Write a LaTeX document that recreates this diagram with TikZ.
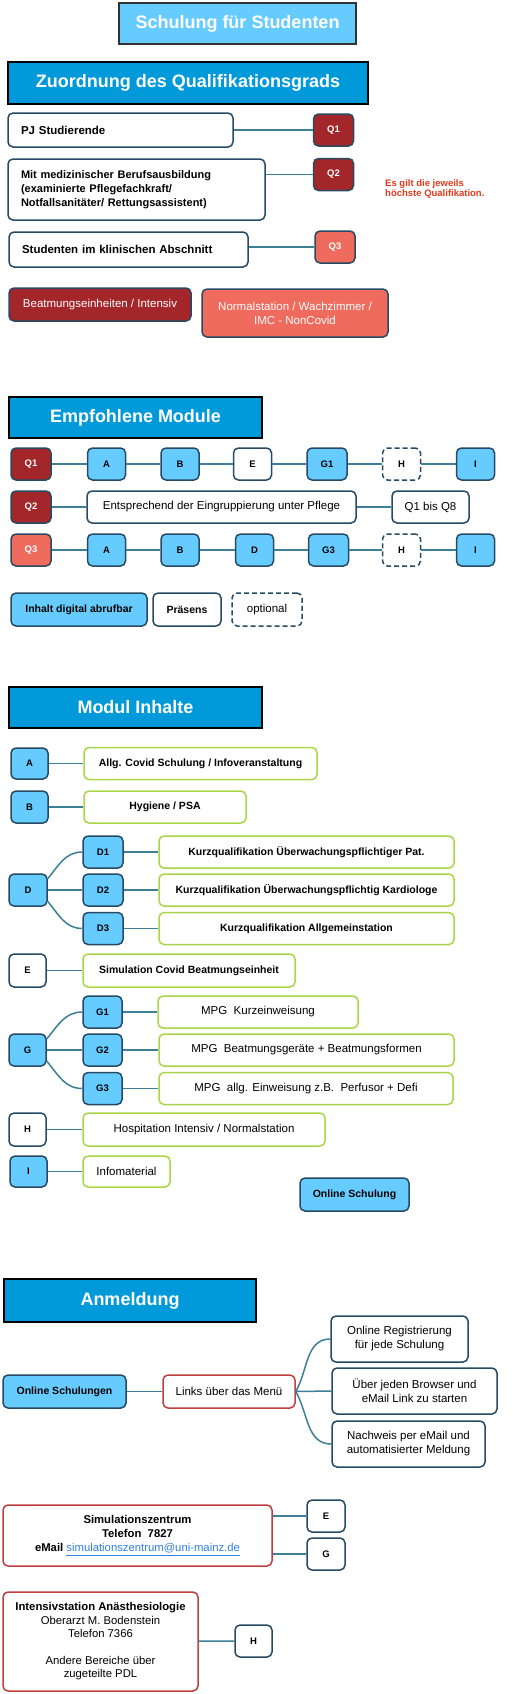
\documentclass[tikz,border=0pt]{standalone}
\usepackage{fontspec}
\setmainfont{Liberation Sans}
\definecolor{lblue}{HTML}{66CCFF}
\definecolor{hblue}{HTML}{0099DA}
\definecolor{bord}{HTML}{264A63}
\definecolor{dred}{HTML}{A3262A}
\definecolor{salmon}{HTML}{EE6B5E}
\definecolor{lgreen}{HTML}{A8D748}
\definecolor{rbord}{HTML}{C0403F}
\definecolor{conncol}{HTML}{3D7F99}
\definecolor{notered}{HTML}{E03A1E}
\definecolor{linkblue}{HTML}{2F80E0}
\newcommand\fz[2]{\fontsize{#1pt}{#2pt}\selectfont}
\begin{document}
\begin{tikzpicture}[x=1pt,y=-1pt]
\tikzset{
 bx/.style={draw=bord,line width=1.5pt,rounded corners=5pt,inner sep=0pt,align=center,font=\fz{11.5}{14}},
 wbx/.style={bx,fill=white},
 bbx/.style={bx,fill=lblue},
 dbx/.style={bx,fill=white,dash pattern=on 5pt off 3pt},
 gbx/.style={bx,draw=lgreen,fill=white},
 rbx/.style={bx,draw=rbord,fill=white},
 ltr/.style={minimum width=38pt,minimum height=32pt,font=\bfseries\fz{9.5}{11}},
 qd/.style={bx,fill=dred,text=white,ltr,minimum width=40pt},
 ql/.style={bx,fill=salmon,text=white,ltr,minimum width=40pt},
 hdr/.style={draw=black,line width=2.5pt,fill=hblue,text=white,inner sep=0pt,font=\bfseries\fz{18}{22}},
 conn/.style={draw=conncol,line width=1.5pt},
 lbold/.style={font=\bfseries\fz{11.5}{14}},
 mbold/.style={font=\bfseries\fz{10.5}{13}},
}
\fill[white] (0,0) rectangle (513,1694);
\useasboundingbox (0,0) rectangle (513,1694);

% ---------- Title ----------
\node[hdr,draw=black!80,fill=lblue,minimum width=237pt,minimum height=41pt] (title) at (237.5,23.5) {Schulung für Studenten};

% ---------- Zuordnung ----------
\node[hdr,minimum width=360pt,minimum height=42pt] (zuo) at (188,83) {Zuordnung des Qualifikationsgrads};
\node[wbx,minimum width=225pt,minimum height=34pt,text width=199pt,inner xsep=13pt,align=left,lbold] (pj) at (120.5,130) {PJ Studierende};
\node[qd] (q1a) at (333.5,130) {Q1};
\node[wbx,minimum width=257pt,minimum height=61pt,text width=231pt,inner xsep=13pt,align=left,font=\bfseries\fz{11}{14}] (mit) at (136.5,189.5) {Mit medizinischer Berufsausbildung\\(examinierte Pflegefachkraft/\\Notfallsanitäter/ Rettungsassistent)};
\node[qd] (q2a) at (333.5,174.5) {Q2};
\node[font=\bfseries\fz{9.5}{10.5},text=notered,align=left,anchor=west,inner sep=0pt] (note) at (385,189) {Es gilt die jeweils\\höchste Qualifikation.};
\node[wbx,minimum width=239pt,minimum height=35pt,text width=213pt,inner xsep=13pt,align=left,lbold] (stud) at (128.5,249.5) {Studenten im klinischen Abschnitt};
\node[ql] (q3a) at (335,247) {Q3};
\node[bx,fill=dred,text=white,minimum width=182pt,minimum height=33pt] (beat) at (100,304.5) {Beatmungseinheiten / Intensiv};
\node[bx,fill=salmon,text=white,minimum width=186pt,minimum height=48pt] (norm) at (295,313) {Normalstation / Wachzimmer /\\IMC - NonCovid};
\draw[conn] (pj.east) -- (q1a.west);
\draw[conn] (mit.east |- q2a) -- (q2a.west);
\draw[conn] (stud.east |- q3a) -- (q3a.west);

% ---------- Empfohlene Module ----------
\node[hdr,minimum width=253pt,minimum height=41pt] (emp) at (135.5,417.5) {Empfohlene Module};
\node[qd] (r1q) at (31,464) {Q1};
\node[bbx,ltr] (r1a) at (106.5,464) {A};
\node[bbx,ltr] (r1b) at (180,464) {B};
\node[wbx,ltr] (r1e) at (252.5,464) {E};
\node[bbx,ltr,minimum width=40pt] (r1g) at (327,464) {G1};
\node[dbx,ltr] (r1h) at (401.5,464) {H};
\node[bbx,ltr] (r1i) at (475.5,464) {I};
\draw[conn] (r1q) -- (r1a) -- (r1b) -- (r1e) -- (r1g) -- (r1h) -- (r1i);

\node[qd] (r2q) at (31,507) {Q2};
\node[wbx,minimum width=269pt,minimum height=32pt] (r2e) at (221.5,507) {Entsprechend der Eingruppierung unter Pflege};
\node[wbx,minimum width=77pt,minimum height=32pt] (r2q8) at (430.5,507) {Q1 bis Q8};
\draw[conn] (r2q) -- (r2e) -- (r2q8);

\node[ql] (r3q) at (31,550) {Q3};
\node[bbx,ltr] (r3a) at (106.5,550) {A};
\node[bbx,ltr] (r3b) at (180,550) {B};
\node[bbx,ltr] (r3d) at (254.5,550) {D};
\node[bbx,ltr,minimum width=40pt] (r3g) at (328.5,550) {G3};
\node[dbx,ltr] (r3h) at (401.5,550) {H};
\node[bbx,ltr] (r3i) at (475.5,550) {I};
\draw[conn] (r3q) -- (r3a) -- (r3b) -- (r3d) -- (r3g) -- (r3h) -- (r3i);

\node[bbx,minimum width=136pt,minimum height=33pt,mbold] (lg1) at (79,609.5) {Inhalt digital abrufbar};
\node[wbx,minimum width=68pt,minimum height=33pt,mbold] (lg2) at (187,609.5) {Präsens};
\node[dbx,minimum width=70pt,minimum height=33pt] (lg3) at (267,609.5) {optional};

% ---------- Modul Inhalte ----------
\node[hdr,minimum width=253pt,minimum height=41pt] (mod) at (135.5,707.5) {Modul Inhalte};
\node[bbx,ltr,minimum width=37pt,minimum height=31pt] (mA) at (29.5,763.5) {A};
\node[gbx,minimum width=233pt,minimum height=32pt,mbold] (tA) at (200.5,763.5) {Allg. Covid Schulung / Infoveranstaltung};
\node[bbx,ltr,minimum width=37pt] (mB) at (29.5,807) {B};
\node[gbx,minimum width=162pt,minimum height=32pt,mbold] (tB) at (165,807) {Hygiene / PSA};
\draw[conn] (mA) -- (tA);
\draw[conn] (mB) -- (tB);

\node[bbx,ltr] (mD) at (28,890) {D};
\node[bbx,ltr,minimum width=40pt] (mD1) at (103,852) {D1};
\node[bbx,ltr,minimum width=40pt] (mD2) at (103,890) {D2};
\node[bbx,ltr,minimum width=40pt] (mD3) at (103,928.5) {D3};
\node[gbx,minimum width=295pt,minimum height=32pt,mbold] (tD1) at (306.5,852) {Kurzqualifikation Überwachungspflichtiger Pat.};
\node[gbx,minimum width=295pt,minimum height=32pt,mbold] (tD2) at (306.5,890) {Kurzqualifikation Überwachungspflichtig Kardiologe};
\node[gbx,minimum width=295pt,minimum height=32pt,mbold] (tD3) at (306.5,928.5) {Kurzqualifikation Allgemeinstation};
\draw[conn] (mD.30) to[out=50,in=180] (mD1.west);
\draw[conn] (mD) -- (mD2);
\draw[conn] (mD.-30) to[out=-50,in=180] (mD3.west);
\draw[conn] (mD1) -- (tD1);
\draw[conn] (mD2) -- (tD2);
\draw[conn] (mD3) -- (tD3);

\node[wbx,ltr,minimum width=37pt,minimum height=33pt] (mE) at (27.5,970.5) {E};
\node[gbx,minimum width=212pt,minimum height=33pt,mbold] (tE) at (189,970.5) {Simulation Covid Beatmungseinheit};
\draw[conn] (mE) -- (tE);

\node[bbx,ltr,minimum width=37pt] (mG) at (27.5,1050) {G};
\node[bbx,ltr,minimum width=39pt] (mG1) at (102.5,1012) {G1};
\node[bbx,ltr,minimum width=39pt] (mG2) at (102.5,1050) {G2};
\node[bbx,ltr,minimum width=39pt] (mG3) at (102.5,1088.5) {G3};
\node[gbx,minimum width=200pt,minimum height=32pt] (tG1) at (258,1012) {MPG\ \ Kurzeinweisung};
\node[gbx,minimum width=295pt,minimum height=32pt] (tG2) at (306.5,1050) {MPG\ \ Beatmungsgeräte + Beatmungsformen};
\node[gbx,minimum width=294pt,minimum height=32pt] (tG3) at (306,1088.5) {MPG\ \ allg. Einweisung z.B.\ \ Perfusor + Defi};
\draw[conn] (mG.30) to[out=50,in=180] (mG1.west);
\draw[conn] (mG) -- (mG2);
\draw[conn] (mG.-30) to[out=-50,in=180] (mG3.west);
\draw[conn] (mG1) -- (tG1);
\draw[conn] (mG2) -- (tG2);
\draw[conn] (mG3) -- (tG3);

\node[wbx,ltr,minimum width=37pt,minimum height=33pt] (mH) at (27.5,1129.5) {H};
\node[gbx,minimum width=242pt,minimum height=33pt] (tH) at (204,1129.5) {Hospitation Intensiv / Normalstation};
\draw[conn] (mH) -- (tH);
\node[bbx,ltr,minimum width=37pt,minimum height=31pt] (mI) at (28.5,1171.5) {I};
\node[gbx,minimum width=87pt,minimum height=31pt] (tI) at (126.5,1171.5) {Infomaterial};
\draw[conn] (mI) -- (tI);
\node[bbx,minimum width=109pt,minimum height=33pt,mbold] (onl) at (354.5,1194.5) {Online Schulung};

% ---------- Anmeldung ----------
\node[hdr,minimum width=252pt,minimum height=43pt] (anm) at (130,1300.5) {Anmeldung};
\node[bbx,minimum width=123pt,minimum height=33pt,mbold] (ons) at (64.5,1391.5) {Online Schulungen};
\node[rbx,minimum width=132pt,minimum height=33pt] (links) at (229,1391.5) {Links über das Menü};
\node[wbx,minimum width=137pt,minimum height=46pt] (reg) at (399.5,1339) {Online Registrierung\\für jede Schulung};
\node[wbx,minimum width=165pt,minimum height=46pt] (brw) at (414.5,1391) {Über jeden Browser und\\eMail Link zu starten};
\node[wbx,minimum width=153pt,minimum height=46pt] (nach) at (408.5,1444) {Nachweis per eMail und\\automatisierter Meldung};
\draw[conn] (ons) -- (links);
\draw[conn] (links.east) to[out=60,in=180] (reg.west);
\draw[conn] (links.east) -- (brw.west);
\draw[conn] (links.east) to[out=-60,in=180] (nach.west);

% ---------- Kontakte ----------
\node[rbx,minimum width=269pt,minimum height=61pt,font=\fz{11.3}{14}] (sim) at (137.5,1535.5) {\textbf{Simulationszentrum}\\\textbf{Telefon\ \ 7827}\\\textbf{eMail} {\color{linkblue}\underline{simulationszentrum@uni-mainz.de}}};
\node[wbx,ltr] (e2) at (326,1516) {E};
\node[wbx,ltr] (g2) at (326,1554) {G};
\draw[conn] (sim.east |- e2) -- (e2.west);
\draw[conn] (sim.east |- g2) -- (g2.west);

\node[rbx,minimum width=195pt,minimum height=99pt,font=\fz{11.3}{13.5}] (int) at (100.5,1641.5) {\textbf{Intensivstation Anästhesiologie}\\Oberarzt M. Bodenstein\\Telefon 7366\\[13pt]Andere Bereiche über\\zugeteilte PDL};
\node[wbx,ltr,minimum width=37pt] (hh) at (253.5,1641) {H};
\draw[conn] (int) -- (hh);
\end{tikzpicture}
\end{document}
